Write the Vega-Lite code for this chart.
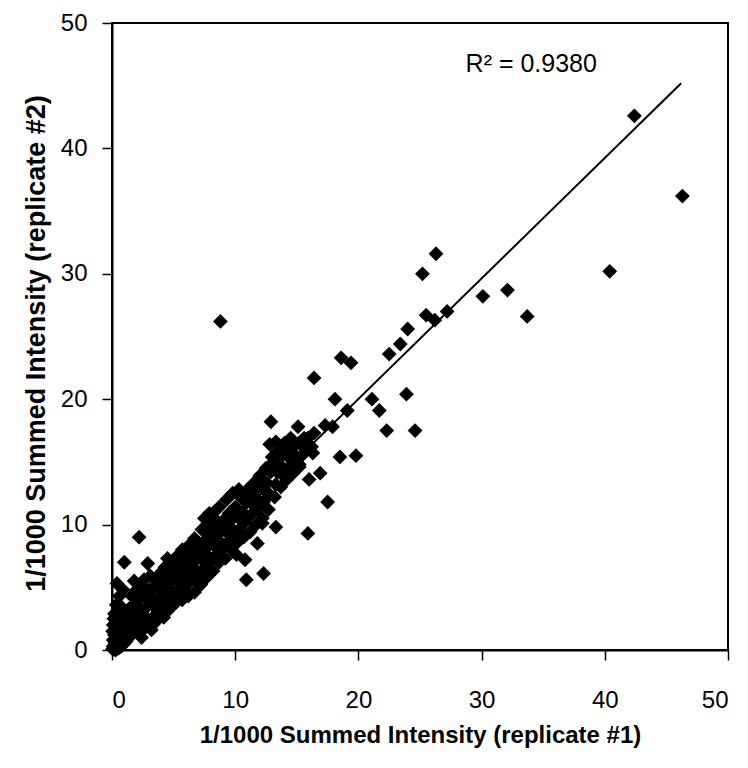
{
  "$schema": "https://vega.github.io/schema/vega-lite/v6.json",
  "width": 616,
  "height": 627,
  "autosize": {"type": "none"},
  "padding": {"left": 112, "top": 23, "right": 20, "bottom": 118},
  "background": "white",
  "config": {
    "view": {"stroke": "black", "strokeWidth": 2},
    "axis": {"grid": false, "domainColor": "black", "domainWidth": 2, "tickColor": "black", "tickWidth": 1.5, "tickSize": 10, "labelColor": "black", "titleColor": "black", "labelFont": "Liberation Sans", "labelFontSize": 24, "titleFont": "Liberation Sans", "titleFontSize": 24, "titleFontWeight": "bold"}
  },
  "datasets": {
    "pts": [
      {"r1":46.3,"r2":36.2},{"r1":42.4,"r2":42.6},{"r1":40.4,"r2":30.2},{"r1":30.1,"r2":28.2},{"r1":32.1,"r2":28.7},{"r1":33.7,"r2":26.6},{"r1":27.2,"r2":27.0},{"r1":26.3,"r2":31.6},{"r1":25.2,"r2":30.0},{"r1":25.5,"r2":26.7},{"r1":26.2,"r2":26.3},{"r1":24.0,"r2":25.6},{"r1":23.4,"r2":24.4},{"r1":22.5,"r2":23.6},{"r1":18.6,"r2":23.3},{"r1":19.4,"r2":22.9},{"r1":16.4,"r2":21.7},{"r1":18.1,"r2":20.0},{"r1":19.1,"r2":19.1},{"r1":21.1,"r2":20.0},{"r1":21.7,"r2":19.1},{"r1":23.9,"r2":20.4},{"r1":22.3,"r2":17.5},{"r1":24.6,"r2":17.5},{"r1":17.3,"r2":17.9},{"r1":17.9,"r2":17.8},{"r1":16.4,"r2":17.3},{"r1":15.6,"r2":16.9},{"r1":18.5,"r2":15.4},{"r1":19.8,"r2":15.5},{"r1":16.9,"r2":14.1},{"r1":16.0,"r2":13.6},{"r1":17.5,"r2":11.8},{"r1":8.8,"r2":26.2},{"r1":2.2,"r2":9.0},{"r1":1.0,"r2":7.0},{"r1":2.9,"r2":6.9},{"r1":12.9,"r2":18.2},{"r1":15.1,"r2":17.8},{"r1":15.9,"r2":9.3},{"r1":13.3,"r2":9.8},{"r1":12.2,"r2":10.1},{"r1":11.8,"r2":8.5},{"r1":12.3,"r2":6.1},{"r1":10.9,"r2":5.6},{"r1":10.1,"r2":7.6},{"r1":10.8,"r2":7.2},{"r1":4.5,"r2":7.3},{"r1":7.9,"r2":10.9},{"r1":8.3,"r2":11.0},
      {"r1":0.05,"r2":0.1},{"r1":0.1,"r2":0.3},{"r1":0.2,"r2":0.1},{"r1":0.3,"r2":0.5},{"r1":0.1,"r2":0.8},{"r1":0.4,"r2":0.2},{"r1":0.5,"r2":0.7},{"r1":0.2,"r2":1.2},{"r1":0.6,"r2":0.4},{"r1":0.7,"r2":1.0},{"r1":0.3,"r2":1.6},{"r1":0.8,"r2":0.6},{"r1":0.9,"r2":1.3},{"r1":0.1,"r2":2.0},{"r1":0.4,"r2":2.4},{"r1":1.0,"r2":0.9},{"r1":1.1,"r2":1.6},{"r1":0.6,"r2":2.0},{"r1":1.2,"r2":1.1},{"r1":1.3,"r2":1.9},{"r1":0.2,"r2":2.9},{"r1":0.5,"r2":3.1},{"r1":0.8,"r2":2.6},{"r1":1.4,"r2":1.4},{"r1":1.5,"r2":2.2},{"r1":0.05,"r2":1.5},{"r1":0.15,"r2":2.5},{"r1":0.35,"r2":3.6},{"r1":0.6,"r2":4.3},{"r1":0.4,"r2":5.3},{"r1":0.9,"r2":4.8},{"r1":0.7,"r2":3.5},{"r1":1.0,"r2":3.0},{"r1":1.2,"r2":2.6},{"r1":1.4,"r2":3.3},{"r1":0.25,"r2":0.6},{"r1":0.45,"r2":1.1},{"r1":0.65,"r2":1.6},{"r1":0.85,"r2":2.0},{"r1":0.1,"r2":0.05},{"r1":0.3,"r2":0.0},{"r1":0.55,"r2":0.15},{"r1":0.75,"r2":0.3},{"r1":0.95,"r2":0.5},{"r1":1.15,"r2":0.7},
      {"r1":1.6,"r2":1.2},{"r1":1.7,"r2":2.0},{"r1":1.8,"r2":2.8},{"r1":1.9,"r2":3.6},{"r1":1.6,"r2":4.3},{"r1":2.0,"r2":1.6},{"r1":2.0,"r2":4.8},{"r1":1.8,"r2":5.5},
      {"r1":2.2,"r2":1.3},{"r1":2.3,"r2":2.2},{"r1":2.4,"r2":3.0},{"r1":2.1,"r2":3.9},{"r1":2.5,"r2":4.4},{"r1":2.3,"r2":5.2},{"r1":2.4,"r2":1.0},
      {"r1":2.6,"r2":1.7},{"r1":2.7,"r2":2.6},{"r1":2.8,"r2":3.4},{"r1":2.9,"r2":4.1},{"r1":2.6,"r2":5.6},{"r1":3.0,"r2":2.0},{"r1":3.0,"r2":4.8},
      {"r1":3.2,"r2":1.6},{"r1":3.3,"r2":2.6},{"r1":3.4,"r2":3.5},{"r1":3.2,"r2":4.3},{"r1":3.5,"r2":5.1},{"r1":3.1,"r2":5.9},{"r1":3.4,"r2":2.1},
      {"r1":3.6,"r2":2.4},{"r1":3.7,"r2":3.2},{"r1":3.8,"r2":4.0},{"r1":3.9,"r2":4.8},{"r1":3.6,"r2":5.6},{"r1":4.0,"r2":2.7},{"r1":4.0,"r2":6.2},
      {"r1":4.2,"r2":2.6},{"r1":4.3,"r2":3.6},{"r1":4.4,"r2":4.4},{"r1":4.1,"r2":5.2},{"r1":4.5,"r2":5.8},{"r1":4.3,"r2":6.6},{"r1":4.5,"r2":3.1},
      {"r1":4.7,"r2":3.4},{"r1":4.8,"r2":4.2},{"r1":4.6,"r2":5.0},{"r1":4.9,"r2":5.7},{"r1":5.0,"r2":6.5},{"r1":4.7,"r2":7.0},{"r1":5.0,"r2":3.6},
      {"r1":5.2,"r2":3.8},{"r1":5.3,"r2":4.6},{"r1":5.4,"r2":5.4},{"r1":5.1,"r2":6.1},{"r1":5.5,"r2":6.9},{"r1":5.3,"r2":7.5},{"r1":5.5,"r2":4.2},
      {"r1":5.7,"r2":4.0},{"r1":5.8,"r2":4.9},{"r1":5.6,"r2":5.7},{"r1":5.9,"r2":6.4},{"r1":6.0,"r2":7.2},{"r1":5.7,"r2":8.0},{"r1":6.0,"r2":5.2},
      {"r1":6.2,"r2":4.3},{"r1":6.3,"r2":5.4},{"r1":6.4,"r2":6.2},{"r1":6.1,"r2":7.0},{"r1":6.5,"r2":7.7},{"r1":6.3,"r2":8.4},{"r1":6.5,"r2":5.8},
      {"r1":6.7,"r2":4.6},{"r1":6.8,"r2":5.6},{"r1":6.6,"r2":6.6},{"r1":6.9,"r2":7.3},{"r1":7.0,"r2":8.1},{"r1":6.7,"r2":8.9},{"r1":7.0,"r2":6.2},
      {"r1":7.2,"r2":5.2},{"r1":7.3,"r2":6.3},{"r1":7.4,"r2":7.1},{"r1":7.1,"r2":7.9},{"r1":7.5,"r2":8.7},{"r1":7.3,"r2":9.6},{"r1":7.5,"r2":10.5},
      {"r1":7.7,"r2":5.8},{"r1":7.8,"r2":6.9},{"r1":7.6,"r2":7.7},{"r1":7.9,"r2":8.4},{"r1":8.0,"r2":9.2},{"r1":7.7,"r2":10.0},{"r1":8.0,"r2":10.8},
      {"r1":8.2,"r2":6.3},{"r1":8.3,"r2":7.4},{"r1":8.4,"r2":8.2},{"r1":8.1,"r2":9.0},{"r1":8.5,"r2":9.8},{"r1":8.3,"r2":10.5},
      {"r1":8.7,"r2":7.0},{"r1":8.8,"r2":8.0},{"r1":8.6,"r2":8.8},{"r1":8.9,"r2":9.5},{"r1":9.0,"r2":10.3},{"r1":8.7,"r2":11.4},
      {"r1":9.2,"r2":7.3},{"r1":9.3,"r2":8.5},{"r1":9.4,"r2":9.3},{"r1":9.1,"r2":10.0},{"r1":9.5,"r2":10.9},{"r1":9.3,"r2":12.0},
      {"r1":9.7,"r2":8.0},{"r1":9.8,"r2":9.0},{"r1":9.6,"r2":9.8},{"r1":9.9,"r2":10.6},{"r1":10.0,"r2":11.4},{"r1":9.8,"r2":12.5},
      {"r1":10.2,"r2":8.6},{"r1":10.3,"r2":9.6},{"r1":10.4,"r2":10.4},{"r1":10.1,"r2":11.2},{"r1":10.5,"r2":12.1},{"r1":10.3,"r2":12.8},
      {"r1":10.7,"r2":9.0},{"r1":10.8,"r2":10.2},{"r1":10.6,"r2":11.0},{"r1":10.9,"r2":11.8},{"r1":11.0,"r2":12.8},
      {"r1":11.2,"r2":9.4},{"r1":11.3,"r2":10.8},{"r1":11.4,"r2":11.6},{"r1":11.1,"r2":12.4},{"r1":11.5,"r2":13.3},
      {"r1":11.7,"r2":10.0},{"r1":11.8,"r2":11.2},{"r1":11.6,"r2":12.2},{"r1":11.9,"r2":13.0},{"r1":12.0,"r2":13.9},
      {"r1":12.2,"r2":10.5},{"r1":12.3,"r2":11.8},{"r1":12.4,"r2":12.7},{"r1":12.1,"r2":13.6},{"r1":12.5,"r2":14.5},
      {"r1":12.7,"r2":11.2},{"r1":12.8,"r2":12.4},{"r1":12.6,"r2":13.3},{"r1":12.9,"r2":14.2},{"r1":13.0,"r2":15.4},{"r1":12.8,"r2":16.4},
      {"r1":13.2,"r2":12.2},{"r1":13.3,"r2":13.2},{"r1":13.4,"r2":14.2},{"r1":13.1,"r2":15.0},{"r1":13.5,"r2":15.9},{"r1":13.3,"r2":16.6},
      {"r1":13.7,"r2":13.0},{"r1":13.8,"r2":14.0},{"r1":13.6,"r2":14.8},{"r1":13.9,"r2":15.6},{"r1":14.0,"r2":16.5},
      {"r1":14.2,"r2":13.6},{"r1":14.3,"r2":14.5},{"r1":14.4,"r2":15.3},{"r1":14.1,"r2":16.1},{"r1":14.5,"r2":16.9},
      {"r1":14.7,"r2":14.1},{"r1":14.8,"r2":15.0},{"r1":14.6,"r2":15.8},{"r1":14.9,"r2":16.4},
      {"r1":15.2,"r2":14.8},{"r1":15.4,"r2":15.5},{"r1":15.6,"r2":16.1},{"r1":15.3,"r2":16.6},{"r1":15.9,"r2":16.9},{"r1":16.2,"r2":16.2},{"r1":16.3,"r2":15.7},{"r1":15.2,"r2":14.6}
    ],
    "fit": [{"r1":0,"r2":0.8},{"r1":46.2,"r2":45.2}],
    "note": [{"r1":28.7,"r2":46.1,"label":"R\u00b2 = 0.9380"}]
  },
  "layer": [
    {
      "data": {"name": "pts"},
      "mark": {"type": "point", "shape": "diamond", "filled": true, "color": "black", "size": 220, "opacity": 1, "strokeWidth": 0},
      "encoding": {
        "x": {"field": "r1", "type": "quantitative", "scale": {"domain": [0, 50], "nice": false},
          "axis": {"values": [0,10,20,30,40,50], "title": "1/1000 Summed Intensity (replicate #1)", "labelBaseline": "alphabetic", "labelPadding": 47, "titleBaseline": "alphabetic", "titleX": 308, "titleY": 92}},
        "y": {"field": "r2", "type": "quantitative", "scale": {"domain": [0, 50], "nice": false},
          "axis": {"values": [0,10,20,30,40,50], "title": "1/1000 Summed Intensity (replicate #2)", "labelPadding": 15, "titleBaseline": "alphabetic", "titleFontSize": 27, "titleX": -68, "titleY": 320}}
      }
    },
    {
      "data": {"name": "fit"},
      "mark": {"type": "line", "color": "black", "strokeWidth": 2},
      "encoding": {
        "x": {"field": "r1", "type": "quantitative"},
        "y": {"field": "r2", "type": "quantitative"}
      }
    },
    {
      "data": {"name": "note"},
      "mark": {"type": "text", "align": "left", "baseline": "alphabetic", "font": "Liberation Sans", "fontSize": 25, "color": "black"},
      "encoding": {
        "x": {"field": "r1", "type": "quantitative"},
        "y": {"field": "r2", "type": "quantitative"},
        "text": {"field": "label"}
      }
    }
  ]
}
